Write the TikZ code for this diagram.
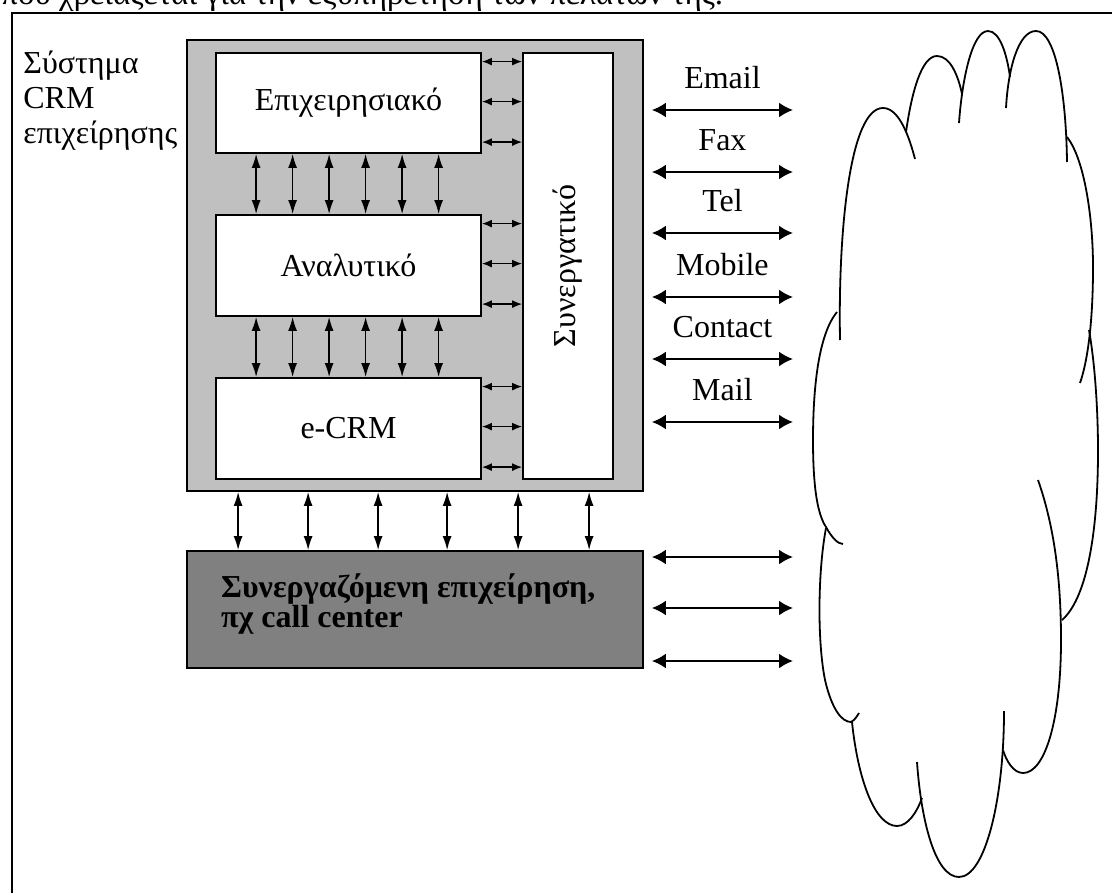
\documentclass[tikz,border=0pt]{standalone}
\usepackage{fontspec}
\setmainfont{Liberation Serif}
\usetikzlibrary{arrows.meta}
\definecolor{sysgrey}{HTML}{C0C0C0}
\definecolor{partgrey}{HTML}{808080}
\tikzset{
  box/.style={draw,line width=0.9pt,fill=white,inner sep=0pt},
  bigtip/.style={line width=1pt,<->,>={Latex[length=7pt,width=7.5pt]}},
  midtip/.style={line width=0.75pt,<->,>={Latex[length=7pt,width=4.5pt]}},
  smalltip/.style={line width=0.75pt,<->,>={Latex[length=5pt,width=4pt]}},
  cloudline/.style={line width=0.9pt}
}
\begin{document}
\begin{tikzpicture}[x=0.5pt,y=-0.5pt,font=\fontsize{16}{17.5}\selectfont]
\useasboundingbox (0,0) rectangle (1112,893);
\clip (0,0) rectangle (1112,893);
\node[anchor=base west,inner sep=0pt,font=\fontsize{16.5}{20}\selectfont] (intro) at (1,5) {που χρειάζεται για την εξυπηρέτηση των πελατών της.};
\draw[line width=1pt] (12,893)--(12,13)--(1112,13);
\node[anchor=north west,align=left,inner sep=0pt] (title) at (23,51) {Σύστημα\\CRM\\επιχείρησης};
\node[box,fill=sysgrey,minimum width=228pt,minimum height=225.5pt] (sys) at (415,265.5) {};
\node[box,minimum width=132.5pt,minimum height=50pt] (biz) at (348.5,103) {Επιχειρησιακό};
\node[box,minimum width=132.5pt,minimum height=50.5pt] (anal) at (348.5,265.5) {Αναλυτικό};
\node[box,minimum width=132.5pt,minimum height=50.5pt] (ecrm) at (348.5,428.5) {e-CRM};
\node[box,minimum width=45pt,minimum height=213pt] (collab) at (568,266) {};
\node[rotate=90] (collabtext) at (collab) {Συνεργατικό};
\node[box,fill=partgrey,minimum width=228pt,minimum height=58.5pt] (partner) at (415,609.5) {};
\node[anchor=west,align=left,font=\fontsize{16}{15}\selectfont\bfseries] (partnertext) at ([xshift=14pt,yshift=2.5pt]partner.west) {Συνεργαζόμενη επιχείρηση,\\πχ call center};
\foreach \d in {41,77.5,114,150.5,187,223.5}{
  \draw[midtip] ([xshift=\d*0.5pt]biz.south west)--([xshift=\d*0.5pt]anal.north west);
  \draw[midtip] ([xshift=\d*0.5pt]anal.south west)--([xshift=\d*0.5pt]ecrm.north west);}
\foreach \b in {biz,anal,ecrm}{
  \foreach \d in {9.5,49.5,90}{
    \draw[smalltip] ([yshift=-\d*0.5pt]\b.north east)--([yshift=-\d*0.5pt]\b.north east -| collab.west);}}
\foreach \d in {52,122,192,261,332,403}
  \draw[midtip] ([xshift=\d*0.5pt]sys.south west)--([xshift=\d*0.5pt]partner.north west);
\foreach \y/\t [count=\i] in {110/Email,172/Fax,233/Tel,297/Mobile,359/Contact,422/Mail}{
  \coordinate (ch\i) at (793,\y);
  \draw[bigtip] ([xshift=4pt]sys.east |- ch\i)--(ch\i) node[midway,above=7pt] (lab\i) {\t};}
\foreach \y [count=\i] in {557,608,661}{
  \coordinate (pc\i) at (793,\y);
  \draw[bigtip] ([xshift=4pt]partner.east |- pc\i)--(pc\i);}
\draw[cloudline] (840,340) .. controls (838,230) and (850,108) .. (883,108) .. controls (900,108) and (910,140) .. (915,159);
\draw[cloudline] (906,132) .. controls (912,90) and (922,56) .. (937,56) .. controls (950,56) and (958,75) .. (962,94);
\draw[cloudline] (959,123) .. controls (962,80) and (972,31) .. (988,31) .. controls (1000,31) and (1007,55) .. (1010,77);
\draw[cloudline] (1006,108) .. controls (1008,70) and (1018,31) .. (1036,31) .. controls (1055,31) and (1066,90) .. (1067,162);
\draw[cloudline] (1067,137) .. controls (1085,160) and (1093,220) .. (1093,267) .. controls (1093,320) and (1088,360) .. (1080,383);
\draw[cloudline] (1089,330) .. controls (1096,370) and (1098,420) .. (1098,450) .. controls (1098,540) and (1085,600) .. (1062,620);
\draw[cloudline] (1038,480) .. controls (1052,520) and (1061,570) .. (1061,640) .. controls (1061,720) and (1045,773) .. (1023,773) .. controls (1013,773) and (1006,760) .. (1003,750);
\draw[cloudline] (1004,711) .. controls (1004,800) and (985,877) .. (959,877) .. controls (935,877) and (921,820) .. (917,762);
\draw[cloudline] (852,722) .. controls (858,780) and (875,826) .. (897,826) .. controls (908,826) and (917,812) .. (922,798);
\draw[cloudline] (826,528) .. controls (818,570) and (817,640) .. (825,680) .. controls (832,710) and (842,722) .. (851,722) .. controls (855,720) and (857,716) .. (859,713);
\draw[cloudline] (837,312) .. controls (818,335) and (813,390) .. (813,440) .. controls (813,490) and (818,515) .. (826,527) .. controls (832,538) and (838,544) .. (843,544);
\end{tikzpicture}
\end{document}
